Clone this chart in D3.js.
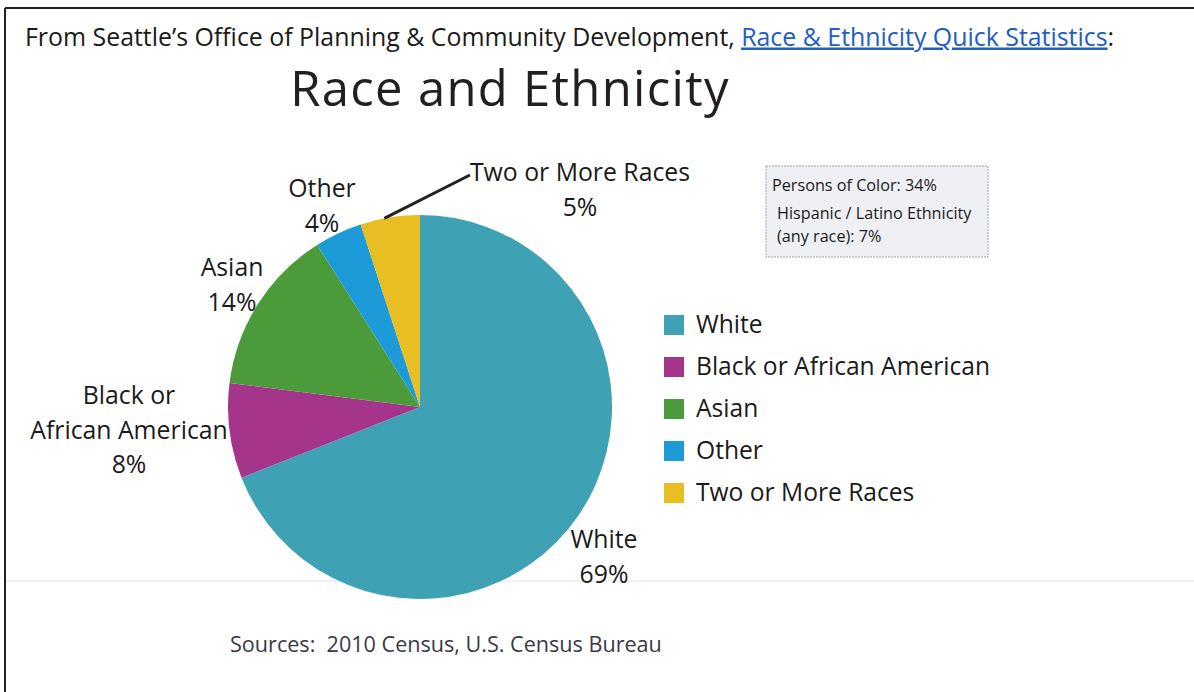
<!DOCTYPE html>
<html>
<head>
<meta charset="utf-8">
<script src="https://cdn.jsdelivr.net/npm/d3@7"></script>
<style>
  html, body { margin: 0; padding: 0; background: #fff; }
  svg { display: block; }
  text { font-family: "Open Sans", Lato, sans-serif; fill: #1a1a1a; }
</style>
</head>
<body>
<svg id="chart" width="1194" height="692"></svg>
<script>
// Seattle 2010 race & ethnicity shares (percent)
const categories = ["White", "Black or African American", "Asian", "Other", "Two or More Races"];
const values = [69, 8, 14, 4, 5];
const colors = ["#3fa2b4", "#a5348b", "#4b9b3a", "#1c9bd8", "#e9be22"];

// Slice label lines and placement
const sliceLabels = [
  { lines: ["White", "69%"], x: 604, y: 548 },
  { lines: ["Black or", "African American", "8%"], x: 129, y: 404 },
  { lines: ["Asian", "14%"], x: 232, y: 276 },
  { lines: ["Other", "4%"], x: 322, y: 197 },
  { lines: ["Two or More Races", "5%"], x: 580, y: 181 }
];
const summaryLines = ["Persons of Color: 34%", "Hispanic / Latino Ethnicity", "(any race): 7%"];

const svg = d3.select("#chart");

// page frame
svg.append("line").attr("x1", 5).attr("y1", 8).attr("x2", 1194).attr("y2", 8)
  .attr("stroke", "#222").attr("stroke-width", 2);
svg.append("line").attr("x1", 5).attr("y1", 8).attr("x2", 5).attr("y2", 692)
  .attr("stroke", "#222").attr("stroke-width", 2);
svg.append("line").attr("x1", 6).attr("y1", 581).attr("x2", 1194).attr("y2", 581)
  .attr("stroke", "#eceef3").attr("stroke-width", 1.5);

// header line with link
const header = svg.append("text").attr("x", 25).attr("y", 45.5)
  .style("font-size", "24.9px");
header.append("tspan").text("From Seattle\u2019s Office of Planning & Community Development, ");
header.append("tspan").text("Race & Ethnicity Quick Statistics")
  .style("fill", "#1f5cc4").style("text-decoration", "underline");
header.append("tspan").text(":");

svg.append("text").attr("x", 510).attr("y", 105.5).attr("text-anchor", "middle")
  .style("font-size", "49px").style("letter-spacing", "1.3px").style("fill", "#231f20")
  .text("Race and Ethnicity");

// pie
const cx = 420, cy = 407, r = 192;
const pie = d3.pie().sort(null).value(d => d)(values);
const arc = d3.arc().innerRadius(0).outerRadius(r);
const g = svg.append("g").attr("transform", `translate(${cx},${cy})`);
g.selectAll("path").data(pie).join("path")
  .attr("d", arc)
  .attr("fill", (d, i) => colors[i]);

// leader line for the small slice
const twoArc = pie[4];
const mid = (twoArc.startAngle + twoArc.endAngle) / 2;
const lp = [cx + Math.sin(mid - 0.03) * r, cy - Math.cos(mid - 0.03) * r];
svg.append("line").attr("x1", lp[0]).attr("y1", lp[1])
  .attr("x2", 470).attr("y2", 175)
  .attr("stroke", "#222").attr("stroke-width", 3);

// slice labels
sliceLabels.forEach(l => {
  const t = svg.append("text").attr("text-anchor", "middle").style("font-size", "24.8px");
  l.lines.forEach((s, k) => {
    t.append("tspan").attr("x", l.x).attr("y", l.y + k * 34.5).text(s);
  });
});

// legend
const legend = svg.append("g");
categories.forEach((c, i) => {
  const y = 325 + i * 42;
  legend.append("rect").attr("x", 664).attr("y", y - 10).attr("width", 20).attr("height", 20)
    .attr("fill", colors[i]);
  legend.append("text").attr("x", 696).attr("y", y + 8).style("font-size", "24.6px").text(c);
});

// summary box
svg.append("rect").attr("x", 766).attr("y", 166).attr("width", 222).attr("height", 91)
  .attr("fill", "#eef0f4").attr("stroke", "#9aa0aa").attr("stroke-dasharray", "2,1");
svg.append("text").attr("x", 772).attr("y", 191).style("font-size", "16.2px").text(summaryLines[0]);
svg.append("text").attr("x", 777).attr("y", 219).style("font-size", "16.2px").text(summaryLines[1]);
svg.append("text").attr("x", 777).attr("y", 242).style("font-size", "16.2px").text(summaryLines[2]);

svg.append("text").attr("x", 230).attr("y", 652).style("font-size", "21.6px").style("fill", "#3a3a44")
  .attr("xml:space", "preserve")
  .text("Sources:  2010 Census, U.S. Census Bureau");
</script>
</body>
</html>
